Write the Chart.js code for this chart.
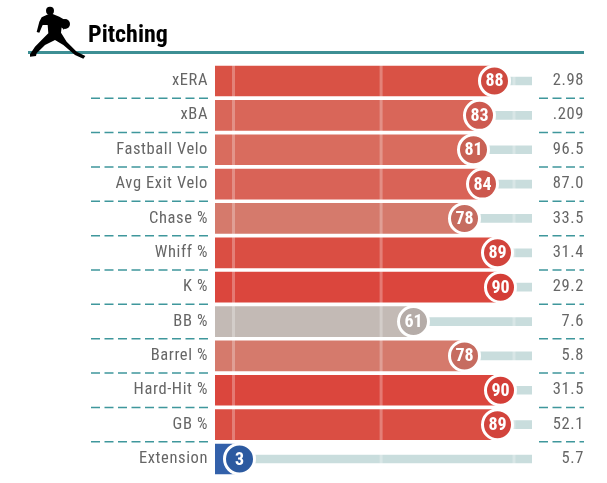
<!DOCTYPE html>
<html>
<head>
<meta charset="utf-8">
<title>Pitching</title>
<script src="https://cdn.jsdelivr.net/npm/chart.js@4"></script>
<style>
  html, body { margin: 0; padding: 0; background: #fff; }
  #wrap { position: relative; width: 607px; height: 483px; overflow: hidden; }
  #chart { position: absolute; left: 0; top: 0; }
  #rule { position: absolute; left: 28px; top: 51px; width: 556px; height: 3px; background: #3d8f94; }
  #pitcher { position: absolute; left: 0; top: 0; width: 100px; height: 60px; }
  #title { position: absolute; left: 88px; top: 21px; font: 700 24px "Roboto Condensed", Roboto, sans-serif;
           color: #000; line-height: 26px; }
</style>
</head>
<body>
<div id="wrap">
  <canvas id="chart" width="607" height="483"></canvas>
  <div id="rule"></div>
  <svg id="pitcher" viewBox="0 0 300 180">
    <circle cx="150" cy="32" r="12" fill="#000"/>
    <circle cx="195" cy="72" r="15" fill="#000"/>
    <path fill="#000" d="M146 42 L158 42 L178 50 L195 60 L192 90 L185 80 L183 98 L200 125 L230 155 L256 168 L250 176 L225 165 L190 135 L165 120 L135 135 L110 160 L108 168 L90 170 L90 163 L105 140 L130 115 L145 100 L143 75 L128 75 L118 98 L110 96 L118 65 L125 52 Z"/>
  </svg>
  <div id="title">Pitching</div>
</div>
<script>
// Metric names, percentile ranks and the raw stat shown on the right
const metrics = ['xERA', 'xBA', 'Fastball Velo', 'Avg Exit Velo', 'Chase %', 'Whiff %', 'K %', 'BB %', 'Barrel %', 'Hard-Hit %', 'GB %', 'Extension'];
const percentiles = [88, 83, 81, 84, 78, 89, 90, 61, 78, 90, 89, 3];
const rawValues = ['2.98', '.209', '96.5', '87.0', '33.5', '31.4', '29.2', '7.6', '5.8', '31.5', '52.1', '5.7'];

const barColors = ['#d95245', '#d96659', '#d96c5e', '#d96357', '#d57a6c', '#da4e43', '#db463d', '#c3bab5', '#d57a6c', '#db463d', '#da4e43', '#3361aa'];
const dotColors = ['#cf4a40', '#cd5a50', '#c96154', '#cc584e', '#c66c60', '#d2443c', '#d43e37', '#b5aca8', '#c66c60', '#d43e37', '#d2443c', '#2c5aa0'];

const axisMin = -5.17;
const axisMax = 100.5;
const guideLines = [1, 50.2, 94.5];

// Letter spacing for every canvas text, the context loses this on resize
const textPlugin = {
  id: 'spacing',
  beforeUpdate(chart) { chart.ctx.letterSpacing = '0.6px'; },
  beforeDraw(chart) { chart.ctx.letterSpacing = '0.6px'; }
};

// Faint white guides sit on the bars but under the circles
const guidePlugin = {
  id: 'guides',
  afterDatasetDraw(chart, args) {
    if (args.index !== 1) return;
    const { ctx, chartArea, scales } = chart;
    ctx.save();
    ctx.strokeStyle = 'rgba(255,255,255,0.28)';
    ctx.lineWidth = 3;
    guideLines.forEach(v => {
      const px = scales.x.getPixelForValue(v);
      ctx.beginPath();
      ctx.moveTo(px, chartArea.top);
      ctx.lineTo(px, chartArea.bottom);
      ctx.stroke();
    });
    ctx.restore();
  }
};

// Dashed separators beside the bars, and the number inside each circle
const rowPlugin = {
  id: 'rows',
  afterDatasetsDraw(chart) {
    const { ctx, scales } = chart;
    const y = scales.y;
    ctx.save();
    ctx.strokeStyle = '#3f979c';
    ctx.lineWidth = 1.5;
    ctx.setLineDash([9, 4.5]);
    for (let i = 0; i < metrics.length - 1; i++) {
      const py = (y.getPixelForTick(i) + y.getPixelForTick(i + 1)) / 2;
      [[91, 208], [539, 584]].forEach(([a, b]) => {
        ctx.beginPath();
        ctx.moveTo(a, py);
        ctx.lineTo(b, py);
        ctx.stroke();
      });
    }
    ctx.setLineDash([]);
    ctx.fillStyle = '#fff';
    ctx.font = '700 18px "Roboto Condensed", Roboto, sans-serif';
    ctx.letterSpacing = '0px';
    ctx.textAlign = 'center';
    ctx.textBaseline = 'middle';
    chart.getDatasetMeta(2).data.forEach((pt, i) => {
      ctx.fillText(String(percentiles[i]), pt.x, pt.y + 1);
    });
    ctx.restore();
  }
};

const tickFont = { family: '"Roboto Condensed", Roboto, sans-serif', size: 16.5 };

new Chart(document.getElementById('chart').getContext('2d'), {
  type: 'bar',
  data: {
    labels: metrics,
    datasets: [
      {
        label: 'track',
        data: percentiles.map(p => [p, axisMax]),
        backgroundColor: '#c9dddd',
        barThickness: 8,
        grouped: false,
        order: 3
      },
      {
        label: 'percentile',
        data: percentiles.map(p => [axisMin, p]),
        backgroundColor: barColors,
        barThickness: 30,
        grouped: false,
        order: 2
      },
      {
        type: 'line',
        label: 'rank',
        data: percentiles,
        showLine: false,
        pointRadius: 15,
        pointBorderWidth: 3,
        pointBorderColor: '#fff',
        pointBackgroundColor: dotColors,
        clip: false,
        order: 1
      }
    ]
  },
  options: {
    indexAxis: 'y',
    responsive: false,
    animation: false,
    layout: { autoPadding: false, padding: { top: 63.8, bottom: 6.8, left: 0, right: 23 } },
    plugins: { legend: { display: false }, tooltip: { enabled: false }, title: { display: false } },
    scales: {
      x: { display: false, min: axisMin, max: axisMax, afterFit(s) { s.height = 0; s.paddingBottom = 0; s.paddingTop = 0; } },
      y: {
        position: 'left',
        offset: true,
        afterFit(s) { s.width = 215; s.paddingBottom = 0; s.paddingTop = 0; },
        grid: { display: false, drawTicks: false },
        border: { display: false },
        ticks: { autoSkip: false, color: '#666', font: tickFont, padding: 7 }
      },
      y2: {
        type: 'category',
        position: 'right',
        labels: rawValues,
        offset: true,
        afterFit(s) { s.width = 52; s.paddingBottom = 0; s.paddingTop = 0; },
        grid: { display: false, drawTicks: false },
        border: { display: false },
        ticks: { autoSkip: false, color: '#666', font: tickFont, padding: 21, crossAlign: 'far' }
      }
    }
  },
  plugins: [textPlugin, guidePlugin, rowPlugin]
});
</script>
</body>
</html>
